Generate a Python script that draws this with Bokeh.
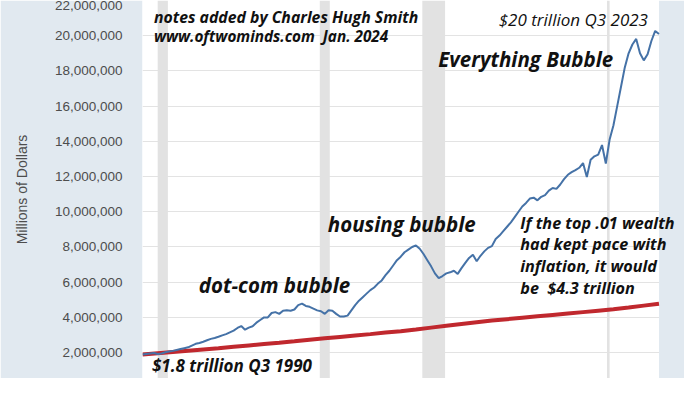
from bokeh.plotting import figure
from bokeh.models import Range1d, FixedTicker, NumeralTickFormatter, Label, BoxAnnotation, ColumnDataSource
from bokeh.embed import file_html
from bokeh.resources import INLINE

# ---- data (trillions of dollars) ----
first_quarter = 1989.5   # Q3 1989
top01_net_worth = [
    1.89, 1.92,
    1.95, 1.98, 1.92, 1.95,   # 1990
    2.02, 2.06, 2.10, 2.15,   # 1991
    2.20, 2.25, 2.30, 2.40,   # 1992
    2.50, 2.55, 2.62, 2.70,   # 1993
    2.78, 2.83, 2.90, 2.98,   # 1994
    3.05, 3.15, 3.25, 3.40,   # 1995
    3.51, 3.30, 3.42, 3.50,   # 1996
    3.70, 3.85, 4.00, 4.00,   # 1997
    4.25, 4.30, 4.20, 4.38,   # 1998
    4.40, 4.38, 4.45, 4.70,   # 1999
    4.78, 4.65, 4.60, 4.50,   # 2000
    4.40, 4.35, 4.20, 4.41,   # 2001
    4.38, 4.20, 4.05, 4.05,   # 2002
    4.10, 4.40, 4.70, 4.95,   # 2003
    5.15, 5.35, 5.55, 5.70,   # 2004
    5.92, 6.10, 6.40, 6.65,   # 2005
    6.95, 7.25, 7.45, 7.70,   # 2006
    7.85, 8.00, 8.09, 7.90,   # 2007
    7.60, 7.25, 6.90, 6.50,   # 2008
    6.23, 6.35, 6.50, 6.56,   # 2009
    6.65, 6.47, 6.80, 7.10,   # 2010
    7.38, 7.56, 7.19, 7.50,   # 2011
    7.75, 7.95, 8.05, 8.45,   # 2012
    8.65, 8.90, 9.15, 9.40,   # 2013
    9.70, 10.00, 10.30, 10.50,  # 2014
    10.75, 10.80, 10.65, 10.85, # 2015
    10.95, 11.20, 11.35, 11.30, # 2016
    11.55, 11.85, 12.10, 12.25, # 2017
    12.37, 12.50, 12.77, 11.97, # 2018
    12.95, 13.15, 13.25, 13.79, # 2019
    12.74, 14.10, 14.90, 16.00, # 2020
    17.10, 18.20, 19.00, 19.50, # 2021
    19.82, 19.00, 18.60, 18.95, # 2022
    19.70, 20.27, 20.10,        # 2023
]
last_quarter = 2023.5    # Q3 2023

inflation_years = [1989.5, 1990.5, 1991.5, 1992.5, 1993.5, 1994.5, 1995.5, 1996.5,
                   1997.5, 1998.5, 1999.5, 2000.5, 2001.5, 2002.5, 2003.5, 2004.5,
                   2005.5, 2006.5, 2007.5, 2008.5, 2009.5, 2010.5, 2011.5, 2012.5,
                   2013.5, 2014.5, 2015.5, 2016.5, 2017.5, 2018.5, 2019.5, 2020.5,
                   2021.5, 2022.5, 2023.5]
inflation_path = [1.89, 1.97, 2.04, 2.11, 2.18, 2.25, 2.33, 2.41,
                  2.49, 2.56, 2.64, 2.73, 2.81, 2.89, 2.97, 3.05,
                  3.14, 3.22, 3.31, 3.42, 3.52, 3.62, 3.72, 3.82,
                  3.90, 3.98, 4.06, 4.14, 4.22, 4.30, 4.38, 4.46,
                  4.56, 4.67, 4.78]

recession_start = [1990.5, 2001.17, 2007.92, 2020.08]
recession_end = [1991.17, 2001.83, 2009.42, 2020.25]

y_ticks = [2e6, 4e6, 6e6, 8e6, 10e6, 12e6, 14e6, 16e6, 18e6, 20e6, 22e6]

TRILLION = 1e6  # in millions of dollars

quarters = [first_quarter + 0.25 * i for i in range(len(top01_net_worth))]
blue_src = ColumnDataSource(dict(x=quarters, y=[v * TRILLION for v in top01_net_worth]))
red_src = ColumnDataSource(dict(x=inflation_years, y=[v * TRILLION for v in inflation_path]))

BG = "#e1e9f0"

p = figure(width=684, height=378, output_backend="svg", toolbar_location=None,
           x_range=Range1d(1989.5, 2025.18), y_range=Range1d(0.53e6, 22.0e6),
           x_axis_location=None,
           min_border_left=142, min_border_right=0, min_border_top=0, min_border_bottom=0,
           background_fill_color="white", border_fill_color=BG, outline_line_color=None)

p.xgrid.visible = False
p.ygrid.grid_line_color = "#e3e3e3"
p.ygrid.grid_line_width = 1

yax = p.yaxis[0]
yax.ticker = FixedTicker(ticks=y_ticks)
yax.formatter = NumeralTickFormatter(format="0,0")
yax.axis_line_color = None
yax.major_tick_line_color = None
yax.minor_tick_line_color = None
yax.major_tick_out = 0
yax.major_tick_in = 0
yax.major_label_standoff = 20
yax.major_label_text_font = "Liberation Sans"
yax.major_label_text_font_size = "13.5px"
yax.major_label_text_color = "#4d4d4d"
yax.axis_label = "Millions of Dollars"
yax.axis_label_text_font = "Liberation Sans"
yax.axis_label_text_font_size = "14px"
yax.axis_label_text_font_style = "normal"
yax.axis_label_text_color = "#4d4d4d"
yax.axis_label_standoff = 22

for s, e in zip(recession_start, recession_end):
    p.add_layout(BoxAnnotation(left=s, right=e, fill_color="#e2e2e2", fill_alpha=1.0,
                               line_color=None, level="underlay"))

# blue-grey margin to the right of the last observation
p.add_layout(BoxAnnotation(left=last_quarter, fill_color=BG, fill_alpha=1.0,
                           line_color=None, level="underlay"))

p.line("x", "y", source=red_src, line_color="#c0282e", line_width=4)
p.line("x", "y", source=blue_src, line_color="#4572a7", line_width=2)

FONT = "Open Sans"
NB = "\u00a0"
LIFT = 0.3e6

def note(x, y, text, size, style="bold italic"):
    p.add_layout(Label(x=x, y=y + LIFT, text=text, text_font=FONT, text_font_size=size,
                       text_font_style=style, text_color="#111111",
                       text_baseline="alphabetic", text_align="left"))

note(1990.25, 20.75e6, "notes added by Charles Hugh Smith", "15.8px")
note(1990.25, 19.66e6, "www.oftwominds.com" + NB + NB + "Jan. 2024", "15.3px")
note(2012.95, 20.64e6, "$20 trillion Q3 2023", "17px", "italic")
note(2008.97, 18.35e6, "Everything Bubble", "20.5px")
note(2001.70, 8.98e6, "housing bubble", "20.5px")
note(1993.21, 5.54e6, "dot-com bubble", "20.5px")
note(1990.12, 0.95e6, "$1.8 trillion Q3 1990", "17px")

para = ["If the top .01 wealth", "had kept pace with", "inflation, it would",
        "be" + NB + NB + "$4.3 trillion"]
for i, line in enumerate(para):
    note(2014.37, 9.09e6 - i * 1.24e6, line, "16.2px")

open("out.html", "w").write(file_html(p, INLINE))
